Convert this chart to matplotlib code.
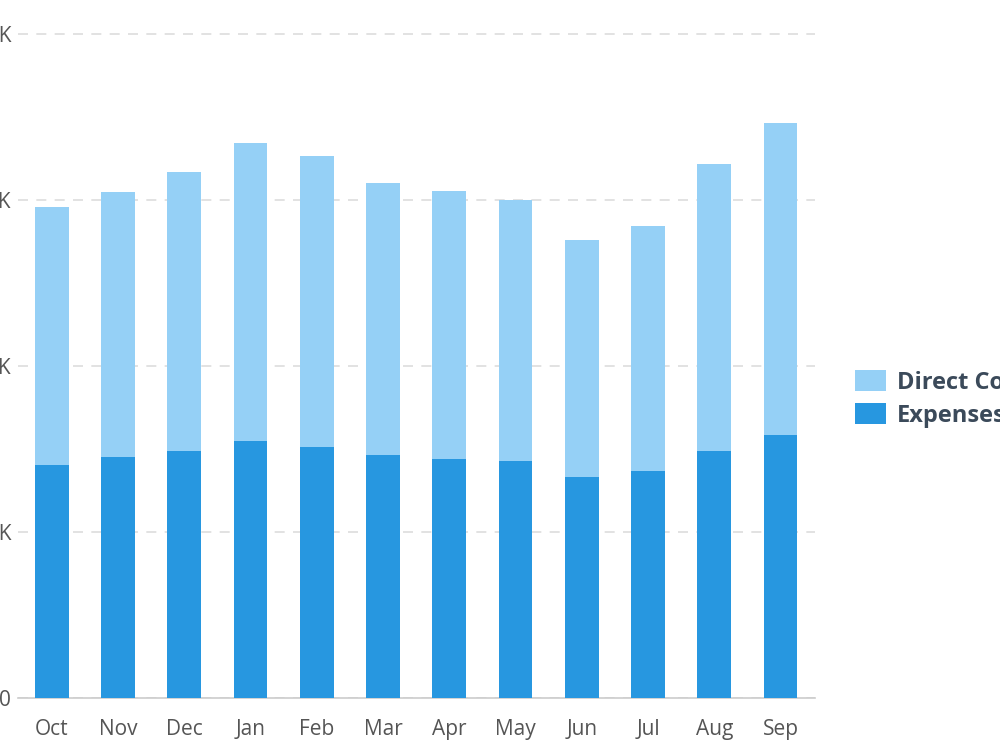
import matplotlib.pyplot as plt
import numpy as np

plt.rcParams['font.family'] = ['Open Sans', 'DejaVu Sans']

months = ['Oct', 'Nov', 'Dec', 'Jan', 'Feb', 'Mar', 'Apr', 'May', 'Jun', 'Jul', 'Aug', 'Sep']
expenses = [28.1, 29.0, 29.8, 31.0, 30.2, 29.3, 28.8, 28.6, 26.6, 27.4, 29.8, 31.7]
direct_costs = [31.1, 32.0, 33.6, 35.9, 35.1, 32.8, 32.3, 31.4, 28.6, 29.5, 34.6, 37.6]
yticks = [0, 20, 40, 60, 80]
ytick_labels = ['0', '20K', '40K', '60K', '80K']

light = '#95d0f6'
dark = '#2797e0'

fig = plt.figure(figsize=(10, 7.5), dpi=100)
ax = fig.add_axes([0.018, 0.0693, 0.797, 0.9307])

x = np.arange(len(months))
b1 = ax.bar(x, expenses, width=0.51, color=dark, zorder=3)
b2 = ax.bar(x, direct_costs, width=0.51, bottom=expenses, color=light, zorder=3)

ax.set_xlim(-0.51, 11.52)
ax.set_ylim(0, 84.1)
ax.set_yticks(yticks)
ax.set_yticklabels(ytick_labels)
ax.set_xticks(x)
ax.set_xticklabels(months)
ax.tick_params(axis='both', length=0, labelsize=15, labelcolor='#555555')
ax.tick_params(axis='y', pad=5)
ax.tick_params(axis='x', pad=15)

ax.yaxis.grid(True, linestyle=(0, (6, 5)), color='#dddddd', linewidth=1.2, zorder=0)
for s in ['top', 'right', 'left']:
    ax.spines[s].set_visible(False)
ax.spines['bottom'].set_color('#cccccc')
ax.spines['bottom'].set_linewidth(1.2)

leg = fig.legend([b2, b1], ['Direct Costs', 'Expenses'], loc='center left',
                 bbox_to_anchor=(0.834, 0.468), frameon=False,
                 prop={'size': 17, 'weight': 'bold'},
                 handlelength=1.3, handleheight=1.0, handletextpad=0.45,
                 labelspacing=0.36)
for t in leg.get_texts():
    t.set_color('#3b4a5a')

fig.savefig('out.png', dpi=100)
